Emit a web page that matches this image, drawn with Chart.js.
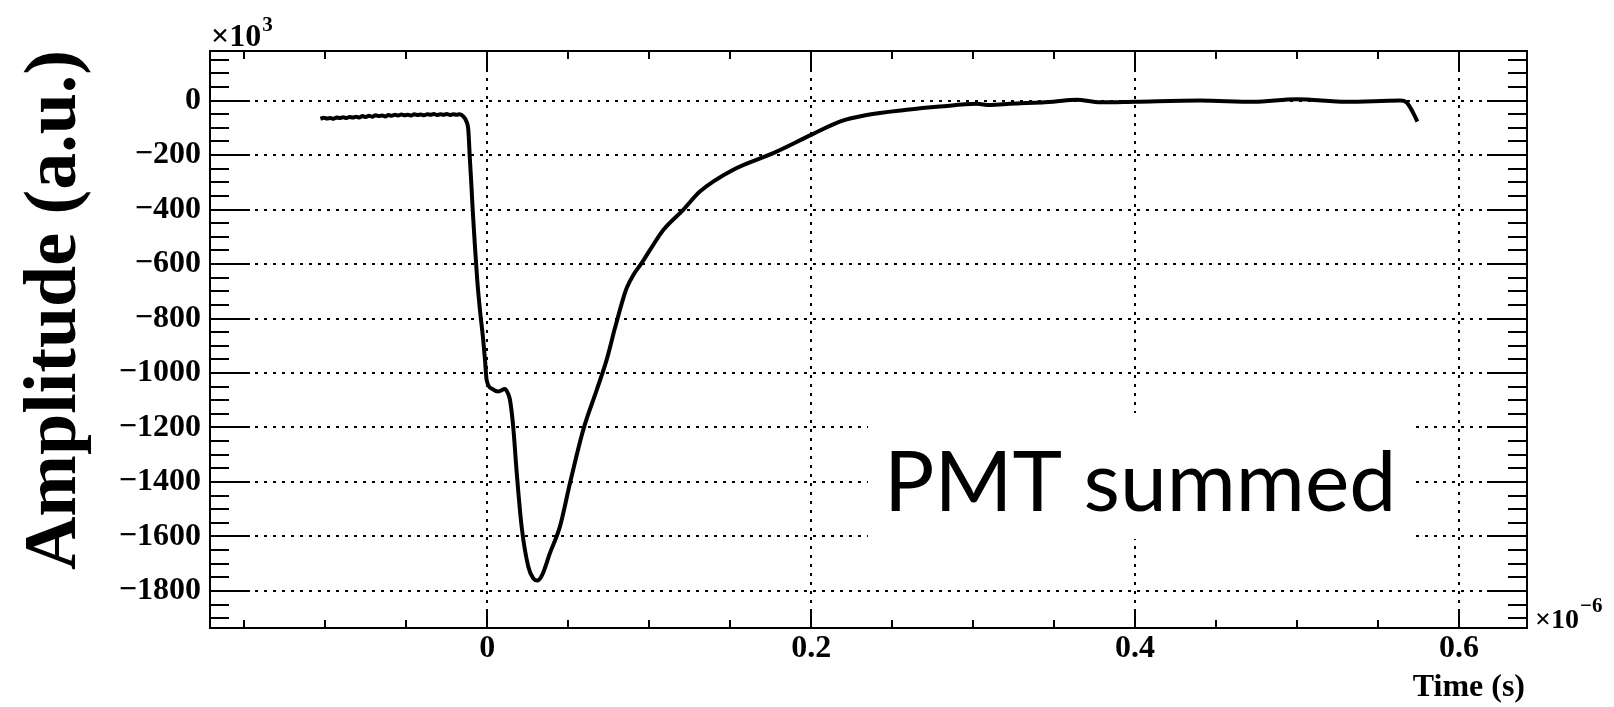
<!DOCTYPE html>
<html>
<head>
<meta charset="utf-8">
<script src="https://cdn.jsdelivr.net/npm/chart.js@4.4.7/dist/chart.umd.min.js"></script>
<style>
  html, body { margin: 0; padding: 0; background: #fff; }
  canvas { display: block; }
</style>
</head>
<body>
<canvas id="chart" width="1614" height="707"></canvas>
<script>
// time in units of 1e-6 s, amplitude in units of 1e3
// pre-trigger baseline (noisy)
const baselineTime = [
  -0.103, -0.101, -0.099, -0.097, -0.095, -0.093, -0.091, -0.089, -0.087, -0.085,
  -0.083, -0.081, -0.079, -0.077, -0.075, -0.073, -0.071, -0.069, -0.067, -0.065,
  -0.063, -0.061, -0.059, -0.057, -0.055, -0.053, -0.051, -0.049, -0.047, -0.045,
  -0.043, -0.041, -0.039, -0.037, -0.035, -0.033, -0.031, -0.029, -0.027, -0.025,
  -0.023, -0.021, -0.019, -0.017
]
const baselineAmp = [
  -67, -63, -66, -64, -67, -62, -64, -61, -64, -60,
  -62, -59, -62, -57, -60, -56, -59, -54, -57, -55,
  -58, -53, -56, -52, -55, -51, -54, -52, -55, -50,
  -53, -51, -54, -50, -52, -49, -53, -50, -52, -49,
  -53, -50, -52, -50
]
// pulse and tail
const pulseTime = [
  -0.0148, -0.0130, -0.0117, -0.0107, -0.0098, -0.0090, -0.0076, -0.0062, -0.0045, -0.0025,
  -0.0014, -0.0004, 0.0030, 0.0068, 0.0109, 0.0128, 0.0140, 0.0160, 0.0182, 0.0212,
  0.0253, 0.0285, 0.0309, 0.0340, 0.0387, 0.0449, 0.0511, 0.0593, 0.0676, 0.0737,
  0.0788, 0.0840, 0.0861, 0.0902, 0.0953, 0.1005, 0.1087, 0.1210, 0.1313, 0.1519,
  0.1766, 0.2000, 0.2177, 0.2343, 0.2590, 0.2795, 0.3022, 0.3104, 0.3227, 0.3495,
  0.3639, 0.3784, 0.4000, 0.4401, 0.4730, 0.4998, 0.5307, 0.5636, 0.5677, 0.5718,
  0.5743
]
const pulseAmp = [
  -58, -75, -108, -218, -310, -401, -536, -658, -770, -878,
  -952, -1025, -1058, -1068, -1059, -1075, -1098, -1196, -1367, -1563,
  -1710, -1755, -1762, -1740, -1661, -1563, -1404, -1208, -1062, -952,
  -836, -725, -688, -640, -597, -548, -475, -401, -334, -254,
  -193, -126, -77, -53, -34, -22, -12, -16, -12, -4,
  3, -6, -4, 0, -4, 5, -4, 0, -7, -46,
  -77
]

const xTicks = [0, 0.2, 0.4, 0.6]
const yTicks = [0, -200, -400, -600, -800, -1000, -1200, -1400, -1600, -1800]
const xRange = [-0.1712, 0.642]
const yRange = [-1936, 182]

const serif = '"Liberation Serif", "Times New Roman", serif'

function minorValues(lo, hi, step) {
  const out = []
  for (let v = Math.ceil(lo / step) * step; v <= hi + 1e-9; v += step) out.push(+v.toFixed(6))
  return out
}

function drawPower(ctx, base, exp, x, y, baseSize, expSize, rise) {
  ctx.font = "bold " + baseSize + "px " + serif
  ctx.fillText(base, x, y)
  const w = ctx.measureText(base).width
  ctx.font = "bold " + expSize + "px " + serif
  ctx.fillText(exp, x + w + 1, y - rise)
}

const rootFrame = {
  id: "rootFrame",
  afterDraw(chart) {
    const { ctx, chartArea: a, scales: { x, y } } = chart
    ctx.save()
    ctx.strokeStyle = "#000"
    ctx.lineWidth = 2

    // ticks on all four sides, pointing inwards
    ctx.beginPath()
    minorValues(yRange[0], yRange[1], 50).forEach(v => {
      const py = Math.round(y.getPixelForValue(v))
      const len = yTicks.includes(v) ? 40 : 19
      ctx.moveTo(a.left, py); ctx.lineTo(a.left + len, py)
      ctx.moveTo(a.right, py); ctx.lineTo(a.right - len, py)
    })
    minorValues(xRange[0], xRange[1], 0.05).forEach(v => {
      const px = Math.round(x.getPixelForValue(v))
      const len = xTicks.some(t => Math.abs(t - v) < 1e-6) ? 18 : 8
      ctx.moveTo(px, a.bottom); ctx.lineTo(px, a.bottom - len)
      ctx.moveTo(px, a.top); ctx.lineTo(px, a.top + len)
    })
    ctx.stroke()
    ctx.strokeRect(a.left, a.top, a.right - a.left, a.bottom - a.top)

    // label box
    ctx.fillStyle = "#fff"
    ctx.fillRect(868, 413, 545, 126)
    ctx.fillStyle = "#000"
    ctx.font = '84px Lato, "Open Sans", sans-serif'
    ctx.textAlign = "left"
    ctx.textBaseline = "alphabetic"
    ctx.fillText("PMT summed", 884, 511)

    // axis titles
    ctx.font = "bold 32px " + serif
    ctx.textAlign = "right"
    ctx.fillText("Time (s)", a.right - 2, 696)

    ctx.save()
    ctx.translate(75, a.top - 1)
    ctx.rotate(-Math.PI / 2)
    ctx.font = "bold 74px " + serif
    ctx.textAlign = "right"
    ctx.fillText("Amplitude (a.u.)", 0, 0)
    ctx.restore()

    // exponents
    ctx.textAlign = "left"
    drawPower(ctx, "\u00d710", "3", 211, 46, 32, 21, 15)
    drawPower(ctx, "\u00d710", "\u22126", 1535, 628, 28, 21, 16)
    ctx.restore()
  }
}

const tickFont = { family: serif, size: 32, weight: "bold" }
const gridStyle = { color: "#000", lineWidth: 2, drawTicks: false }
const timeUs = baselineTime.concat(pulseTime)
const amplitudeK = baselineAmp.concat(pulseAmp)

new Chart(document.getElementById("chart"), {
  type: "line",
  data: {
    datasets: [{
      data: timeUs.map((t, i) => ({ x: t, y: amplitudeK[i] })),
      borderColor: "#000",
      borderWidth: 4,
      pointRadius: 0,
      fill: false,
      cubicInterpolationMode: "monotone"
    }]
  },
  options: {
    responsive: false,
    devicePixelRatio: 1,
    animation: false,
    layout: { padding: { left: 0, top: 51, right: 87, bottom: 0 } },
    plugins: { legend: { display: false }, tooltip: { enabled: false } },
    scales: {
      x: {
        type: "linear",
        min: xRange[0],
        max: xRange[1],
        afterBuildTicks: s => { s.ticks = xTicks.map(v => ({ value: v })) },
        afterFit: s => { s.height = 79 },
        grid: gridStyle,
        border: { display: false, dash: [3, 6] },
        ticks: {
          color: "#000",
          font: tickFont,
          padding: 2,
          maxRotation: 0,
          autoSkip: false,
          callback: v => String(v)
        }
      },
      y: {
        type: "linear",
        min: yRange[0],
        max: yRange[1],
        afterBuildTicks: s => { s.ticks = yTicks.map(v => ({ value: v })) },
        afterFit: s => { s.width = 210 },
        grid: gridStyle,
        border: { display: false, dash: [3, 6] },
        ticks: {
          color: "#000",
          font: tickFont,
          padding: 9,
          autoSkip: false,
          callback: v => (v < 0 ? "\u2212" + Math.abs(v) : String(v))
        }
      }
    }
  },
  plugins: [rootFrame]
})
</script>
</body>
</html>
